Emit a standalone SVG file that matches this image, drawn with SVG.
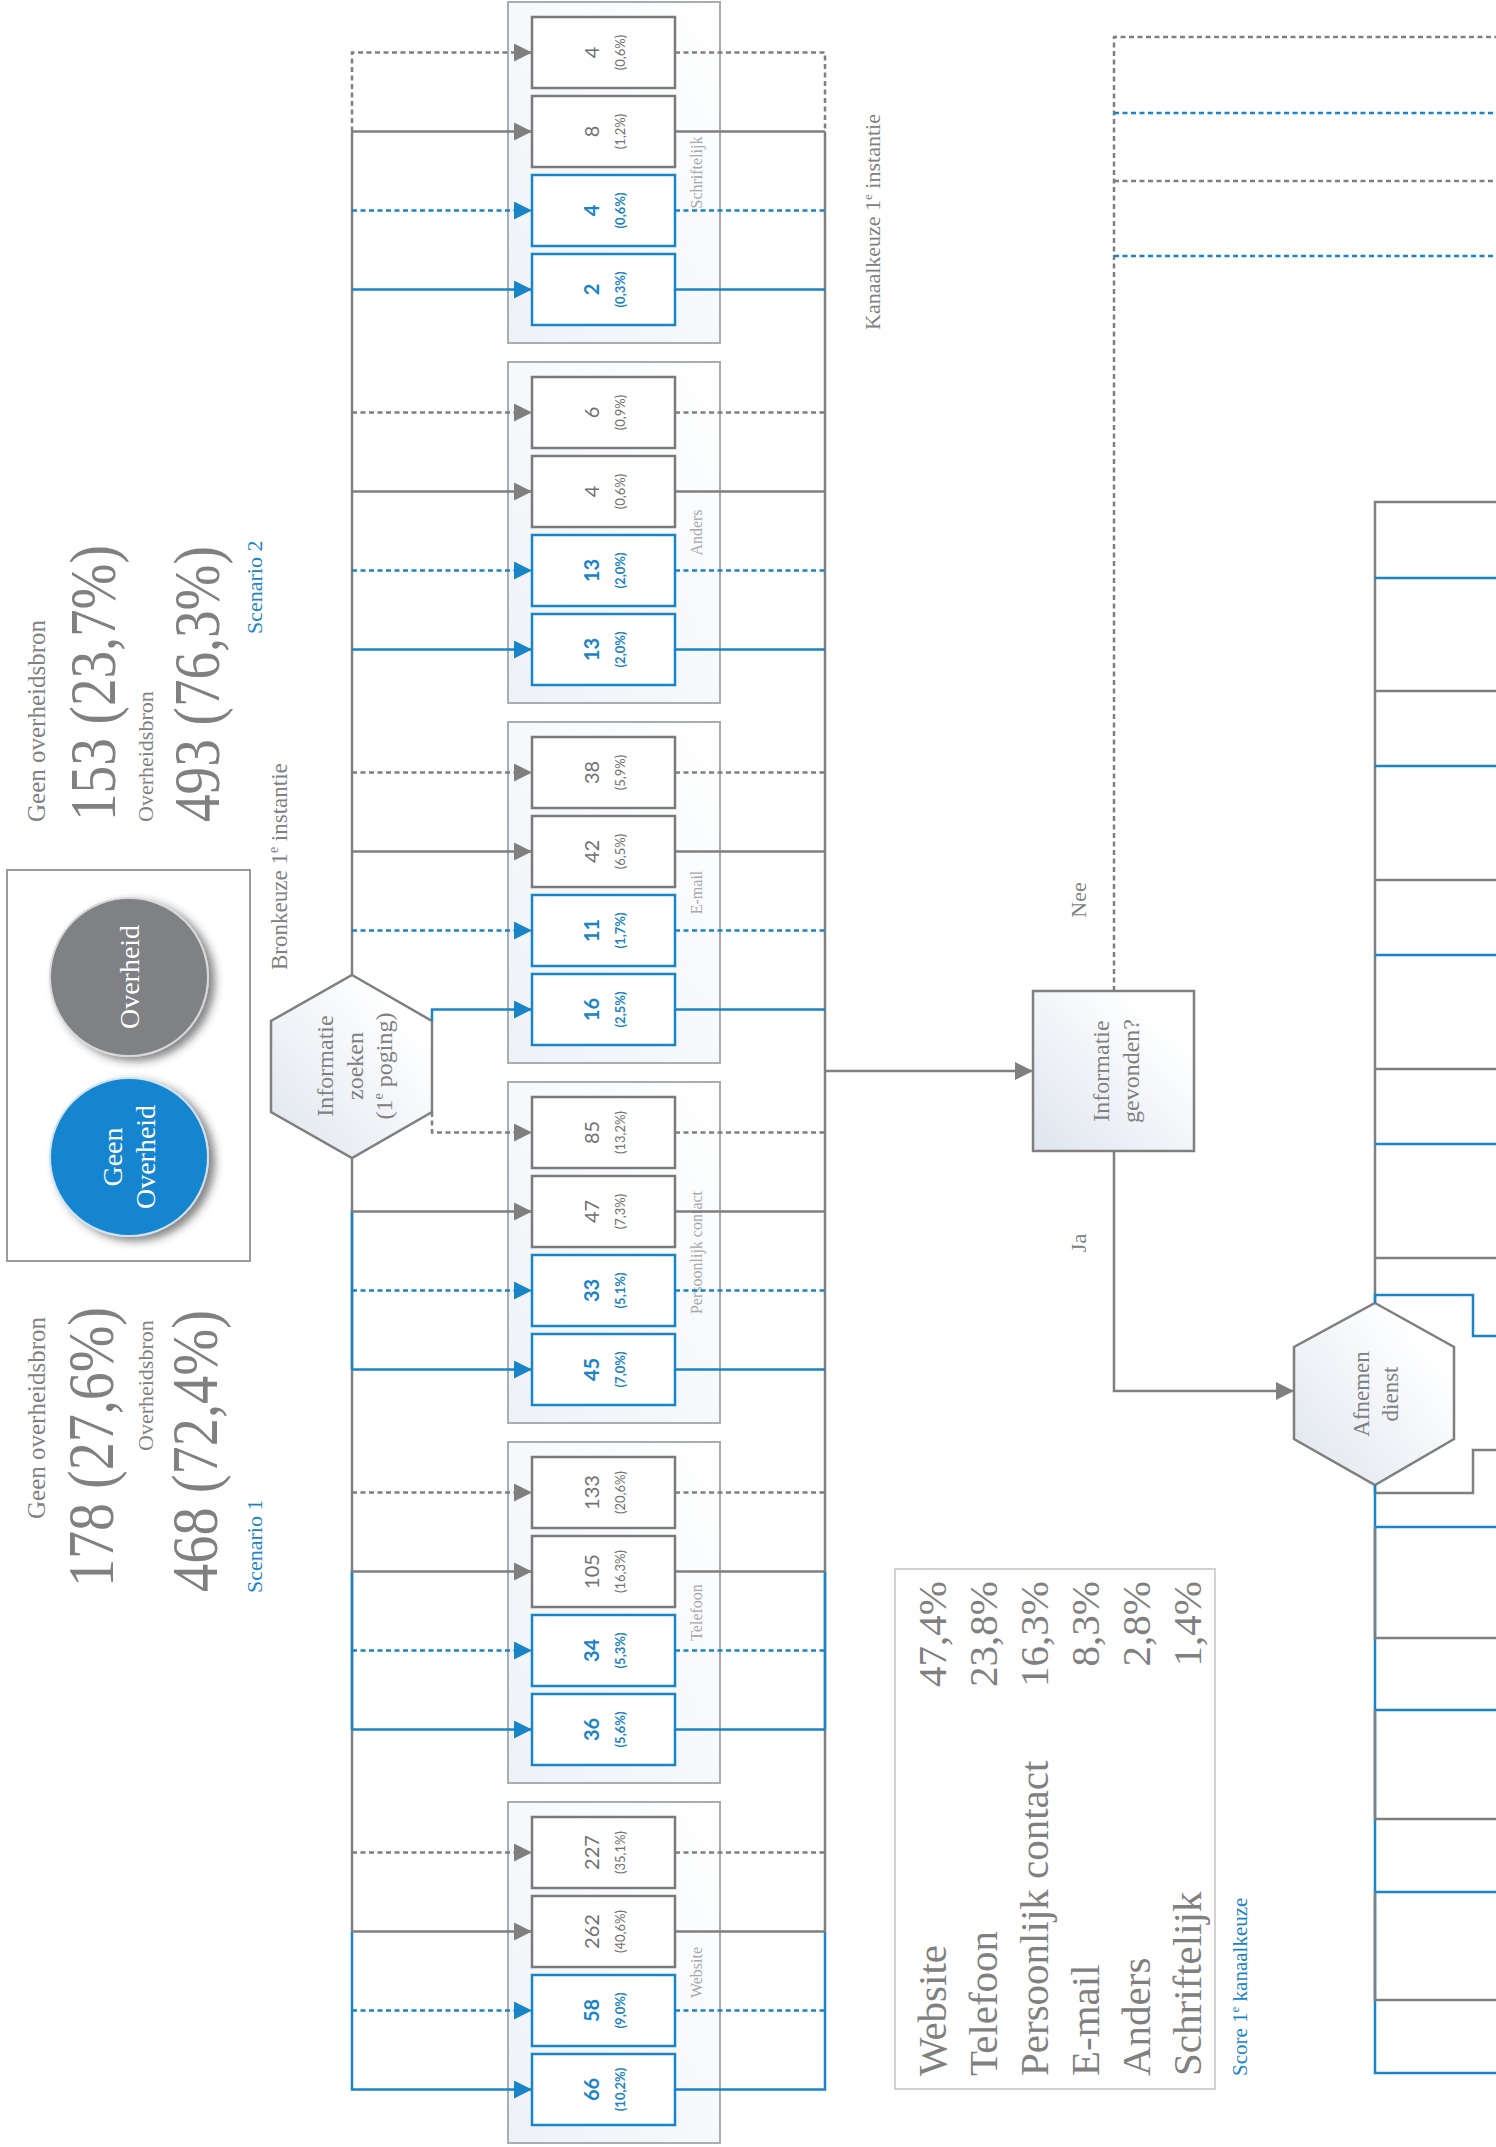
<svg xmlns="http://www.w3.org/2000/svg" width="1496" height="2147" viewBox="0 0 1496 2147">
<style>
.lg{fill:none;stroke:#7f7f7f;stroke-width:2.5}
.lb{fill:none;stroke:#1a84c9;stroke-width:2.5}
.d{stroke-dasharray:5 3.5}
.ag{marker-end:url(#ag)}
.ab{marker-end:url(#ab)}
.bxg{fill:#fff;stroke:#7a7a7a;stroke-width:2.5}
.bxb{fill:#fff;stroke:#1a84c9;stroke-width:2.5}
.grp{fill:url(#gg);stroke:#a9acb1;stroke-width:2}
.n{font-family:Lato,"Liberation Sans",sans-serif;text-anchor:middle}
.ng{fill:#707070}
.nb{fill:#1a84c9;font-weight:bold}
.big{font-size:20px}
.sm{font-size:13px}
.s{font-family:"Liberation Serif",serif;fill:#808080}
.lbl{font-size:16px;fill:#a8a8a8;text-anchor:middle}
.blue{fill:#1a84c9}
</style>
<defs>
<marker id="ag" markerUnits="userSpaceOnUse" markerWidth="18" markerHeight="18" refX="18" refY="9" orient="auto"><path d="M0,0 L18,9 L0,18 z" fill="#7f7f7f"/></marker>
<marker id="ab" markerUnits="userSpaceOnUse" markerWidth="18" markerHeight="18" refX="18" refY="9" orient="auto"><path d="M0,0 L18,9 L0,18 z" fill="#1a84c9"/></marker>
<linearGradient id="gg" x1="1" y1="0" x2="0" y2="1"><stop offset="0" stop-color="#ffffff"/><stop offset="1" stop-color="#eef2f7"/></linearGradient>
<linearGradient id="hx" x1="1" y1="0" x2="0" y2="1"><stop offset="0.2" stop-color="#ffffff"/><stop offset="1" stop-color="#dfe5ee"/></linearGradient>
<filter id="sh" x="-30%" y="-30%" width="160%" height="160%"><feDropShadow dx="6" dy="4" stdDeviation="4" flood-color="#333" flood-opacity="0.6"/></filter>
</defs>
<rect width="1496" height="2147" fill="#fff"/>

<!-- Scenario texts -->
<g id="scenario2">
<text class="s" font-size="25" transform="translate(45,822) rotate(-90)">Geen overheidsbron</text>
<text class="s" font-size="66" transform="translate(115,821) rotate(-90)" textLength="276" lengthAdjust="spacingAndGlyphs">153 (23,7%)</text>
<text class="s" font-size="22" transform="translate(153,822) rotate(-90)">Overheidsbron</text>
<text class="s" font-size="66" transform="translate(219,822) rotate(-90)" textLength="276" lengthAdjust="spacingAndGlyphs">493 (76,3%)</text>
<text class="s blue" font-size="22" transform="translate(262,634) rotate(-90)">Scenario 2</text>
</g>
<g id="scenario1">
<text class="s" font-size="25" transform="translate(45,1519) rotate(-90)">Geen overheidsbron</text>
<text class="s" font-size="66" transform="translate(113,1587) rotate(-90)" textLength="280" lengthAdjust="spacingAndGlyphs">178 (27,6%)</text>
<text class="s" font-size="22" transform="translate(153,1451) rotate(-90)">Overheidsbron</text>
<text class="s" font-size="66" transform="translate(217,1592) rotate(-90)" textLength="282" lengthAdjust="spacingAndGlyphs">468 (72,4%)</text>
<text class="s blue" font-size="22" transform="translate(262,1593) rotate(-90)">Scenario 1</text>
</g>

<g id="legend">
<rect x="7" y="870" width="243" height="391" fill="#fff" stroke="#9a9a9a" stroke-width="2"/>
<circle cx="129" cy="977" r="79" fill="#808184" stroke="#d8d8d8" stroke-width="2" filter="url(#sh)"/>
<circle cx="129" cy="1157" r="79" fill="#1585d0" stroke="#cfe3f3" stroke-width="2" filter="url(#sh)"/>
<text class="s" font-size="28" fill="#fff" style="fill:#fff" text-anchor="middle" transform="translate(139,977) rotate(-90)">Overheid</text>
<text class="s" font-size="28" style="fill:#fff" text-anchor="middle" transform="translate(122,1157) rotate(-90)">Geen</text>
<text class="s" font-size="28" style="fill:#fff" text-anchor="middle" transform="translate(155,1157) rotate(-90)">Overheid</text>
</g>

<text id="bronkeuze" class="s" font-size="23" transform="translate(287,970) rotate(-90)">Bronkeuze 1<tspan font-size="14" dy="-9">e</tspan><tspan dy="9"> instantie</tspan></text>
<text id="kanaalkeuze" class="s" font-size="22" transform="translate(880,330) rotate(-90)">Kanaalkeuze 1<tspan font-size="13" dy="-8">e</tspan><tspan dy="8"> instantie</tspan></text>

<g id="hex-zoeken">
<polygon points="352,975 432,1021 432,1112 352,1158 271,1112 271,1021" fill="url(#hx)" stroke="#7f7f7f" stroke-width="2.5"/>
<text class="s" font-size="24" text-anchor="middle" transform="translate(333,1066) rotate(-90)">Informatie</text>
<text class="s" font-size="24" text-anchor="middle" transform="translate(363,1066) rotate(-90)">zoeken</text>
<text class="s" font-size="24" text-anchor="middle" transform="translate(392,1066) rotate(-90)">(1<tspan font-size="14" dy="-9">e</tspan><tspan dy="9"> poging)</tspan></text>
</g>

<!-- Channel groups -->
<g id="grp-schriftelijk">
<rect class="grp" x="508" y="2" width="212" height="341"/>
<rect class="bxg" x="532" y="17" width="143" height="71"/>
<rect class="bxg" x="532" y="96" width="143" height="71"/>
<rect class="bxb" x="532" y="175" width="143" height="71"/>
<rect class="bxb" x="532" y="254" width="143" height="71"/>
<text class="n ng big" transform="translate(599,52.5) rotate(-90)">4</text><text class="n ng sm" transform="translate(625,52.5) rotate(-90)">(0,6%)</text>
<text class="n ng big" transform="translate(599,131.5) rotate(-90)">8</text><text class="n ng sm" transform="translate(625,131.5) rotate(-90)">(1,2%)</text>
<text class="n nb big" transform="translate(599,210.5) rotate(-90)">4</text><text class="n nb sm" transform="translate(625,210.5) rotate(-90)">(0,6%)</text>
<text class="n nb big" transform="translate(599,289.5) rotate(-90)">2</text><text class="n nb sm" transform="translate(625,289.5) rotate(-90)">(0,3%)</text>
<text class="s lbl" transform="translate(702,172.5) rotate(-90)">Schriftelijk</text>
</g>
<g id="grp-anders">
<rect class="grp" x="508" y="362" width="212" height="341"/>
<rect class="bxg" x="532" y="377" width="143" height="71"/>
<rect class="bxg" x="532" y="456" width="143" height="71"/>
<rect class="bxb" x="532" y="535" width="143" height="71"/>
<rect class="bxb" x="532" y="614" width="143" height="71"/>
<text class="n ng big" transform="translate(599,412.5) rotate(-90)">6</text><text class="n ng sm" transform="translate(625,412.5) rotate(-90)">(0,9%)</text>
<text class="n ng big" transform="translate(599,491.5) rotate(-90)">4</text><text class="n ng sm" transform="translate(625,491.5) rotate(-90)">(0,6%)</text>
<text class="n nb big" transform="translate(599,570.5) rotate(-90)">13</text><text class="n nb sm" transform="translate(625,570.5) rotate(-90)">(2,0%)</text>
<text class="n nb big" transform="translate(599,649.5) rotate(-90)">13</text><text class="n nb sm" transform="translate(625,649.5) rotate(-90)">(2,0%)</text>
<text class="s lbl" transform="translate(702,532.5) rotate(-90)">Anders</text>
</g>
<g id="grp-email">
<rect class="grp" x="508" y="722" width="212" height="341"/>
<rect class="bxg" x="532" y="737" width="143" height="71"/>
<rect class="bxg" x="532" y="816" width="143" height="71"/>
<rect class="bxb" x="532" y="895" width="143" height="71"/>
<rect class="bxb" x="532" y="974" width="143" height="71"/>
<text class="n ng big" transform="translate(599,772.5) rotate(-90)">38</text><text class="n ng sm" transform="translate(625,772.5) rotate(-90)">(5,9%)</text>
<text class="n ng big" transform="translate(599,851.5) rotate(-90)">42</text><text class="n ng sm" transform="translate(625,851.5) rotate(-90)">(6,5%)</text>
<text class="n nb big" transform="translate(599,930.5) rotate(-90)">11</text><text class="n nb sm" transform="translate(625,930.5) rotate(-90)">(1,7%)</text>
<text class="n nb big" transform="translate(599,1009.5) rotate(-90)">16</text><text class="n nb sm" transform="translate(625,1009.5) rotate(-90)">(2,5%)</text>
<text class="s lbl" transform="translate(702,892.5) rotate(-90)">E-mail</text>
</g>
<g id="grp-persoonlijk">
<rect class="grp" x="508" y="1082" width="212" height="341"/>
<rect class="bxg" x="532" y="1097" width="143" height="71"/>
<rect class="bxg" x="532" y="1176" width="143" height="71"/>
<rect class="bxb" x="532" y="1255" width="143" height="71"/>
<rect class="bxb" x="532" y="1334" width="143" height="71"/>
<text class="n ng big" transform="translate(599,1132.5) rotate(-90)">85</text><text class="n ng sm" transform="translate(625,1132.5) rotate(-90)">(13,2%)</text>
<text class="n ng big" transform="translate(599,1211.5) rotate(-90)">47</text><text class="n ng sm" transform="translate(625,1211.5) rotate(-90)">(7,3%)</text>
<text class="n nb big" transform="translate(599,1290.5) rotate(-90)">33</text><text class="n nb sm" transform="translate(625,1290.5) rotate(-90)">(5,1%)</text>
<text class="n nb big" transform="translate(599,1369.5) rotate(-90)">45</text><text class="n nb sm" transform="translate(625,1369.5) rotate(-90)">(7,0%)</text>
<text class="s lbl" transform="translate(702,1252.5) rotate(-90)">Persoonlijk contact</text>
</g>
<g id="grp-telefoon">
<rect class="grp" x="508" y="1442" width="212" height="341"/>
<rect class="bxg" x="532" y="1457" width="143" height="71"/>
<rect class="bxg" x="532" y="1536" width="143" height="71"/>
<rect class="bxb" x="532" y="1615" width="143" height="71"/>
<rect class="bxb" x="532" y="1694" width="143" height="71"/>
<text class="n ng big" transform="translate(599,1492.5) rotate(-90)">133</text><text class="n ng sm" transform="translate(625,1492.5) rotate(-90)">(20,6%)</text>
<text class="n ng big" transform="translate(599,1571.5) rotate(-90)">105</text><text class="n ng sm" transform="translate(625,1571.5) rotate(-90)">(16,3%)</text>
<text class="n nb big" transform="translate(599,1650.5) rotate(-90)">34</text><text class="n nb sm" transform="translate(625,1650.5) rotate(-90)">(5,3%)</text>
<text class="n nb big" transform="translate(599,1729.5) rotate(-90)">36</text><text class="n nb sm" transform="translate(625,1729.5) rotate(-90)">(5,6%)</text>
<text class="s lbl" transform="translate(702,1612.5) rotate(-90)">Telefoon</text>
</g>
<g id="grp-website">
<rect class="grp" x="508" y="1802" width="212" height="341"/>
<rect class="bxg" x="532" y="1817" width="143" height="71"/>
<rect class="bxg" x="532" y="1896" width="143" height="71"/>
<rect class="bxb" x="532" y="1975" width="143" height="71"/>
<rect class="bxb" x="532" y="2054" width="143" height="71"/>
<text class="n ng big" transform="translate(599,1852.5) rotate(-90)">227</text><text class="n ng sm" transform="translate(625,1852.5) rotate(-90)">(35,1%)</text>
<text class="n ng big" transform="translate(599,1931.5) rotate(-90)">262</text><text class="n ng sm" transform="translate(625,1931.5) rotate(-90)">(40,6%)</text>
<text class="n nb big" transform="translate(599,2010.5) rotate(-90)">58</text><text class="n nb sm" transform="translate(625,2010.5) rotate(-90)">(9,0%)</text>
<text class="n nb big" transform="translate(599,2089.5) rotate(-90)">66</text><text class="n nb sm" transform="translate(625,2089.5) rotate(-90)">(10,2%)</text>
<text class="s lbl" transform="translate(702,1972.5) rotate(-90)">Website</text>
</g>

<g id="box-gevonden">
<rect x="1033" y="991" width="161" height="160" fill="url(#hx)" stroke="#7f7f7f" stroke-width="2.5"/>
<text class="s" font-size="24" text-anchor="middle" transform="translate(1109,1071) rotate(-90)">Informatie</text>
<text class="s" font-size="24" text-anchor="middle" transform="translate(1139,1071) rotate(-90)">gevonden?</text>
</g>

<g id="hex-afnemen">
<polygon points="1375,1303 1454,1347 1454,1439 1375,1485 1294,1439 1294,1347" fill="url(#hx)" stroke="#7f7f7f" stroke-width="2.5"/>
<text class="s" font-size="23" text-anchor="middle" transform="translate(1369,1394) rotate(-90)">Afnemen</text>
<text class="s" font-size="23" text-anchor="middle" transform="translate(1398,1394) rotate(-90)">dienst</text>
</g>

<g id="score">
<rect x="895" y="1569" width="320" height="520" fill="#fff" stroke="#d2d2d2" stroke-width="2"/>
<g class="s" font-size="41">
<text transform="translate(946,2076) rotate(-90)">Website</text>
<text transform="translate(997,2076) rotate(-90)">Telefoon</text>
<text transform="translate(1048,2076) rotate(-90)">Persoonlijk contact</text>
<text transform="translate(1099,2076) rotate(-90)">E-mail</text>
<text transform="translate(1150,2076) rotate(-90)">Anders</text>
<text transform="translate(1201,2076) rotate(-90)">Schriftelijk</text>
<g text-anchor="end">
<text transform="translate(946,1581) rotate(-90)">47,4%</text>
<text transform="translate(997,1581) rotate(-90)">23,8%</text>
<text transform="translate(1048,1581) rotate(-90)">16,3%</text>
<text transform="translate(1099,1581) rotate(-90)">8,3%</text>
<text transform="translate(1150,1581) rotate(-90)">2,8%</text>
<text transform="translate(1201,1581) rotate(-90)">1,4%</text>
</g>
</g>
<text class="s blue" font-size="21" transform="translate(1247,2076) rotate(-90)">Score 1<tspan font-size="13" dy="-8">e</tspan><tspan dy="8"> kanaalkeuze</tspan></text>
</g>

<text class="s" font-size="22" text-anchor="middle" transform="translate(1086,900) rotate(-90)">Nee</text>
<text class="s" font-size="22" text-anchor="middle" transform="translate(1086,1243) rotate(-90)">Ja</text>

<g id="connectors">
<!-- left trunk -->
<path class="lg d ag" d="M352,131.5 V52.5 H532"/>
<path class="lg" d="M352,131.5 V975"/>
<path class="lg" d="M352,1158 V1931.5"/>
<path class="lb" d="M352,1211.5 V1369.5"/>
<path class="lb" d="M352,1571.5 V1729.5"/>
<path class="lb ab" d="M352,1931.5 V2089.5 H532"/>
<!-- from hexagon right -->
<path class="lb ab" d="M432,1021 V1009.5 H532"/>
<path class="lg d ag" d="M432,1112 V1132.5 H532"/>
<!-- left rows -->
<path class="lg ag" d="M352,131.5 H532"/>
<path class="lb d ab" d="M352,210.5 H532"/>
<path class="lb ab" d="M352,289.5 H532"/>
<path class="lg d ag" d="M352,412.5 H532"/>
<path class="lg ag" d="M352,491.5 H532"/>
<path class="lb d ab" d="M352,570.5 H532"/>
<path class="lb ab" d="M352,649.5 H532"/>
<path class="lg d ag" d="M352,772.5 H532"/>
<path class="lg ag" d="M352,851.5 H532"/>
<path class="lb d ab" d="M352,930.5 H532"/>
<path class="lg ag" d="M352,1211.5 H532"/>
<path class="lb d ab" d="M352,1290.5 H532"/>
<path class="lb ab" d="M352,1369.5 H532"/>
<path class="lg d ag" d="M352,1492.5 H532"/>
<path class="lg ag" d="M352,1571.5 H532"/>
<path class="lb d ab" d="M352,1650.5 H532"/>
<path class="lb ab" d="M352,1729.5 H532"/>
<path class="lg d ag" d="M352,1852.5 H532"/>
<path class="lg ag" d="M352,1931.5 H532"/>
<path class="lb d ab" d="M352,2010.5 H532"/>
<!-- right trunk -->
<path class="lg d" d="M675,52.5 H825 V131.5"/>
<path class="lg" d="M825,131.5 V1931.5"/>
<path class="lb" d="M825,1571.5 V1729.5"/>
<path class="lb" d="M825,1931.5 V2089.5 H675"/>
<!-- right rows -->
<path class="lg" d="M675,131.5 H825"/>
<path class="lb d" d="M675,210.5 H825"/>
<path class="lb" d="M675,289.5 H825"/>
<path class="lg d" d="M675,412.5 H825"/>
<path class="lg" d="M675,491.5 H825"/>
<path class="lb d" d="M675,570.5 H825"/>
<path class="lb" d="M675,649.5 H825"/>
<path class="lg d" d="M675,772.5 H825"/>
<path class="lg" d="M675,851.5 H825"/>
<path class="lb d" d="M675,930.5 H825"/>
<path class="lb" d="M675,1009.5 H825"/>
<path class="lg d" d="M675,1132.5 H825"/>
<path class="lg" d="M675,1211.5 H825"/>
<path class="lb d" d="M675,1290.5 H825"/>
<path class="lb" d="M675,1369.5 H825"/>
<path class="lg d" d="M675,1492.5 H825"/>
<path class="lg" d="M675,1571.5 H825"/>
<path class="lb d" d="M675,1650.5 H825"/>
<path class="lb" d="M675,1729.5 H825"/>
<path class="lg d" d="M675,1852.5 H825"/>
<path class="lg" d="M675,1931.5 H825"/>
<path class="lb d" d="M675,2010.5 H825"/>
<!-- to Informatie gevonden -->
<path class="lg ag" d="M825,1071 H1033"/>
<!-- Nee -->
<path class="lg d" d="M1114,991 V37 H1496"/>
<path class="lb d" d="M1114,113 H1496"/>
<path class="lg d" d="M1114,181 H1496"/>
<path class="lb d" d="M1114,256 H1496"/>
<!-- Ja -->
<path class="lg ag" d="M1114,1151 V1391 H1294"/>
<!-- second level -->
<path class="lg" d="M1496,502 H1375 V1303"/>
<path class="lb" d="M1375,578 H1496"/>
<path class="lg" d="M1375,691 H1496"/>
<path class="lb" d="M1375,766 H1496"/>
<path class="lg" d="M1375,880 H1496"/>
<path class="lb" d="M1375,955 H1496"/>
<path class="lg" d="M1375,1069 H1496"/>
<path class="lb" d="M1375,1144 H1496"/>
<path class="lg" d="M1375,1258 H1496"/>
<path class="lb" d="M1375,1303 V1295 H1473 V1336 H1496"/>
<path class="lg" d="M1375,1485 V1493 H1473 V1450 H1496"/>
<path class="lb" d="M1375,1485 V2073 H1496"/>
<path class="lb" d="M1375,1527 H1496"/>
<path class="lb" d="M1375,1710 H1496"/>
<path class="lb" d="M1375,1892 H1496"/>
<path class="lg" d="M1375,1527 V1638 H1496"/>
<path class="lg" d="M1375,1710 V1819 H1496"/>
<path class="lg" d="M1375,1892 V2000 H1496"/>
</g>
</svg>
